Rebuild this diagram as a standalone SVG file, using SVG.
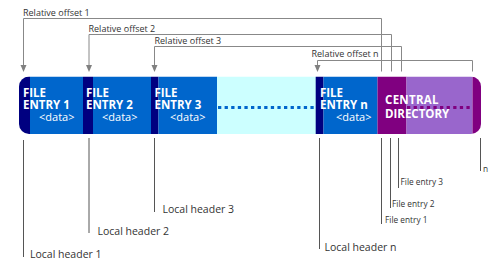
<svg xmlns="http://www.w3.org/2000/svg" xmlns:xlink="http://www.w3.org/1999/xlink" width="500" height="272" viewBox="0 0 500 272">
<style>
.hdr{fill:#000080}
.blue{fill:#0066cc}
.cyan{fill:#ccffff}
.pdark{fill:#800080}
.plight{fill:#9966cc}
.t{font-family:"Open Sans","Noto Sans",sans-serif;fill:#ffffff;font-weight:bold;font-size:11.5px}
.d{font-family:"Open Sans","Noto Sans",sans-serif;fill:#ffffff;font-size:11px}
.lbl{font-family:"Open Sans","Noto Sans",sans-serif;fill:#333333;font-size:9px}
.lh{font-family:"Open Sans","Noto Sans",sans-serif;fill:#333333;font-size:10.5px}
.fe{font-family:"Open Sans","Noto Sans",sans-serif;fill:#333333;font-size:8.3px}
.top{fill:none;stroke:#888888;stroke-width:1}
.bot{fill:none;stroke:#555555;stroke-width:1}
.ah{fill:#808080}
</style>
<defs>
<clipPath id="barclip"><rect x="19" y="76.5" width="462" height="57.5" rx="10" ry="10"/></clipPath>
<path id="arrowhead" d="M-3,-7 L3,-7 L0,0 Z"/>
</defs>
<g clip-path="url(#barclip)">
<g id="entry1">
<rect class="hdr" x="19" y="76.5" width="11" height="57.5"/>
<rect class="blue" x="30" y="76.5" width="53" height="57.5"/>
<text class="t" x="23" y="96.5">FILE</text>
<text class="t" x="23" y="108.5">ENTRY 1</text>
<text class="d" x="39" y="120.5">&lt;data&gt;</text>
</g>
<g id="entry2">
<rect class="hdr" x="83" y="76.5" width="10" height="57.5"/>
<rect class="blue" x="93" y="76.5" width="58" height="57.5"/>
<text class="t" x="86" y="96.5">FILE</text>
<text class="t" x="86" y="108.5">ENTRY 2</text>
<text class="d" x="102" y="120.5">&lt;data&gt;</text>
</g>
<g id="entry3">
<rect class="hdr" x="151" y="76.5" width="7.5" height="57.5"/>
<rect class="blue" x="158.5" y="76.5" width="58.5" height="57.5"/>
<text class="t" x="154.5" y="96.5">FILE</text>
<text class="t" x="154.5" y="108.5">ENTRY 3</text>
<text class="d" x="170" y="120.5">&lt;data&gt;</text>
</g>
<g id="gap">
<rect class="cyan" x="217" y="76.5" width="99" height="57.5"/>
<line x1="218" y1="107.5" x2="316" y2="107.5" stroke="#0066cc" stroke-width="3" stroke-dasharray="3.3,3.3"/>
</g>
<g id="entryn">
<rect class="hdr" x="315.7" y="76.5" width="7.8" height="57.5"/>
<rect class="blue" x="323.5" y="76.5" width="54" height="57.5"/>
<text class="t" x="320" y="96.5">FILE</text>
<text class="t" x="320" y="108.5">ENTRY n</text>
<text class="d" x="336" y="120.5">&lt;data&gt;</text>
</g>
<g id="central">
<rect class="pdark" x="377.5" y="76.5" width="29" height="57.5"/>
<rect class="plight" x="406.5" y="76.5" width="66" height="57.5"/>
<rect class="pdark" x="472.5" y="76.5" width="9" height="57.5"/>
<line x1="407" y1="107.5" x2="472" y2="107.5" stroke="#800080" stroke-width="3" stroke-dasharray="3.3,3.3"/>
<text class="t" x="385" y="104" letter-spacing="0.3">CENTRAL</text>
<text class="t" x="385" y="117.5">DIRECTORY</text>
</g>
</g>
<g id="connectors">
<path class="top" d="M381.5,71.5 V18.5 H23.5 V66"/>
<path class="top" d="M391.5,71.5 V34.5 H89 V66"/>
<path class="top" d="M401.5,71.5 V46.5 H154.5 V66"/>
<path class="top" d="M472.5,71.5 V60.5 H317.5 V66"/>
<use xlink:href="#arrowhead" href="#arrowhead" class="ah" x="23.5" y="72"/>
<use xlink:href="#arrowhead" href="#arrowhead" class="ah" x="89" y="72"/>
<use xlink:href="#arrowhead" href="#arrowhead" class="ah" x="154.5" y="72"/>
<use xlink:href="#arrowhead" href="#arrowhead" class="ah" x="317.5" y="72"/>
<line class="bot" x1="23.5" y1="140" x2="23.5" y2="257"/>
<line class="bot" x1="89" y1="138" x2="89" y2="233"/>
<line class="bot" x1="154.5" y1="138" x2="154.5" y2="212"/>
<line class="bot" x1="319.5" y1="138" x2="319.5" y2="249"/>
<line class="bot" x1="381.5" y1="138" x2="381.5" y2="224"/>
<line class="bot" x1="390.5" y1="138" x2="390.5" y2="208"/>
<line class="bot" x1="398.5" y1="138" x2="398.5" y2="188"/>
<line class="bot" x1="480.5" y1="138" x2="480.5" y2="171"/>
</g>
<g id="labels">
<text class="lbl" x="23" y="16">Relative offset 1</text>
<text class="lbl" x="88.5" y="31.7">Relative offset 2</text>
<text class="lbl" x="154.5" y="44.3">Relative offset 3</text>
<text class="lbl" x="311.5" y="57">Relative offset n</text>
<text class="lh" x="30" y="258">Local header 1</text>
<text class="lh" x="97.5" y="235">Local header 2</text>
<text class="lh" x="162.5" y="212.7">Local header 3</text>
<text class="lh" x="324.5" y="250.7">Local header n</text>
<text class="fe" x="385" y="222.7">File entry 1</text>
<text class="fe" x="392" y="207.3">File entry 2</text>
<text class="fe" x="400.5" y="185">File entry 3</text>
<text class="fe" x="483" y="171.5">n</text>
</g>
</svg>
